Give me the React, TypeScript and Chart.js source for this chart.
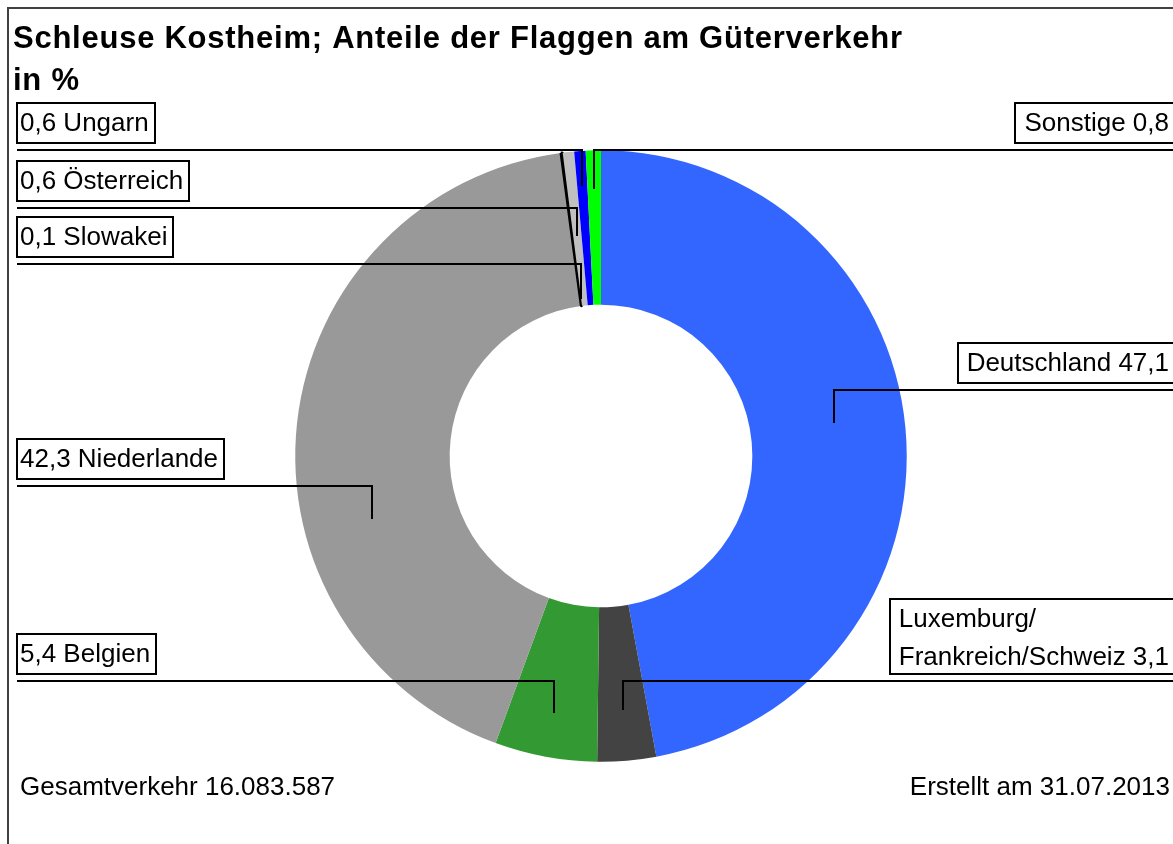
import React, { useEffect, useRef } from 'react';
import { Chart, registerables } from 'chart.js';

Chart.register(...registerables);

// ---- data ----
const titleLines = ['Schleuse Kostheim; Anteile der Flaggen am Güterverkehr', 'in %'];
const countryNames = [
  ['Deutschland'],
  ['Luxemburg/', 'Frankreich/Schweiz'],
  ['Belgien'],
  ['Niederlande'],
  ['Slowakei'],
  ['Österreich'],
  ['Ungarn'],
  ['Sonstige'],
];
const shares = [47.1, 3.1, 5.4, 42.3, 0.1, 0.6, 0.6, 0.8];
const sliceColors = ['#3366ff', '#434343', '#339933', '#999999', '#000000', '#c0c0c0', '#0000ff', '#00ff00'];
const footerLeft = 'Gesamtverkehr 16.083.587';
const footerRight = 'Erstellt am 31.07.2013';

// ---- label layout ----
const labelSide = ['right', 'right', 'left', 'left', 'left', 'left', 'left', 'right'];
const leaderY = [390, 681, 681, 486, 264, 208, 150, 150];
const anchorAngleFrac = [0.483, 0.5, 0.5, 0.357, 0.5, 0.5, 0.5, 0.5];
const anchorRadiusFrac = [0.545, 0.67, 0.71, 0.56, 0.045, 0.455, 0.77, 0.75];

const W = 1173;
const H = 844;
const FONT = '"Liberation Sans", Arial, Helvetica, sans-serif';

const fmt = (v: number) => v.toFixed(1).replace('.', ',');

const labelText = (i: number): string[] => {
  const names = countryNames[i].slice();
  const v = fmt(shares[i]);
  if (labelSide[i] === 'left') {
    names[0] = `${v} ${names[0]}`;
  } else {
    names[names.length - 1] = `${names[names.length - 1]} ${v}`;
  }
  return names;
};

const decorPlugin = {
  id: 'decor',
  afterDraw(chart: any) {
    const ctx: CanvasRenderingContext2D = chart.ctx;
    const meta = chart.getDatasetMeta(0);
    ctx.save();

    // frame
    ctx.strokeStyle = '#404040';
    ctx.lineWidth = 2;
    ctx.strokeRect(8, 8, W + 20, H + 20);

    // title
    ctx.fillStyle = '#000';
    ctx.textAlign = 'left';
    ctx.textBaseline = 'alphabetic';
    ctx.font = `bold 31px ${FONT}`;
    (ctx as any).letterSpacing = '0.75px';
    ctx.fillText(titleLines[0], 13, 48);
    ctx.fillText(titleLines[1], 13, 90);

    // labels
    ctx.font = `26px ${FONT}`;
    (ctx as any).letterSpacing = '0px';
    ctx.strokeStyle = '#000';
    ctx.lineWidth = 2;
    meta.data.forEach((arc: any, i: number) => {
      const p = arc.getProps(['x', 'y', 'startAngle', 'endAngle', 'innerRadius', 'outerRadius'], true);
      const a = p.startAngle + anchorAngleFrac[i] * (p.endAngle - p.startAngle);
      const r = p.innerRadius + anchorRadiusFrac[i] * (p.outerRadius - p.innerRadius);
      const ax = Math.round(p.x + r * Math.cos(a));
      const ay = Math.round(p.y + r * Math.sin(a));
      const lines = labelText(i);
      const ly = leaderY[i];
      const boxH = 40 + (lines.length - 1) * 35;
      const boxBottom = ly - 7;
      const boxTop = boxBottom - boxH;
      const tw = Math.max(...lines.map((l) => ctx.measureText(l).width));
      let textX: number;
      let bx: number;
      let bw: number;
      if (labelSide[i] === 'left') {
        bx = 17;
        textX = 20;
        bw = Math.round(tw + 9);
      } else {
        textX = 1169 - tw;
        bx = Math.round(textX - 9);
        bw = W + 20 - bx;
      }
      ctx.fillStyle = '#fff';
      ctx.fillRect(bx, boxTop, bw, boxH);
      ctx.strokeRect(bx, boxTop, bw, boxH);
      ctx.fillStyle = '#000';
      lines.forEach((l, k) => ctx.fillText(l, textX, boxTop + 28 + k * 38));

      ctx.beginPath();
      if (labelSide[i] === 'left') {
        ctx.moveTo(17, ly);
      } else {
        ctx.moveTo(W + 20, ly);
      }
      ctx.lineTo(ax, ly);
      ctx.lineTo(ax, ay);
      ctx.stroke();
    });

    // footer
    ctx.fillStyle = '#000';
    ctx.textAlign = 'left';
    ctx.fillText(footerLeft, 20, 795);
    ctx.textAlign = 'right';
    ctx.fillText(footerRight, 1170, 795);

    ctx.restore();
  },
};

export default function App() {
  const canvasRef = useRef<HTMLCanvasElement | null>(null);

  useEffect(() => {
    if (!canvasRef.current) return;
    const chart = new Chart(canvasRef.current, {
      type: 'doughnut',
      data: {
        labels: countryNames.map((n) => n.join('')),
        datasets: [
          {
            data: shares,
            backgroundColor: sliceColors,
            borderColor: sliceColors.map((c, i) => (i === 4 ? '#000000' : c)),
            borderWidth: shares.map((_, i) => (i === 4 ? 2.5 : 0)),
            hoverBorderWidth: 0,
            hoverOffset: 0,
            offset: 0,
          },
        ],
      },
      options: {
        responsive: false,
        animation: false,
        cutout: '49.5%',
        events: [],
        layout: {
          padding: { left: 294, right: 265, top: 149, bottom: 81 },
        },
        plugins: {
          legend: { display: false },
          tooltip: { enabled: false },
          title: { display: false },
        },
      },
      plugins: [decorPlugin],
    });
    return () => chart.destroy();
  }, []);

  return (
    <div style={{ position: 'fixed', left: 0, top: 0, width: W, height: H, overflow: 'hidden', background: '#fff' }}>
      <canvas ref={canvasRef} width={W} height={H} style={{ display: 'block' }} />
    </div>
  );
}
